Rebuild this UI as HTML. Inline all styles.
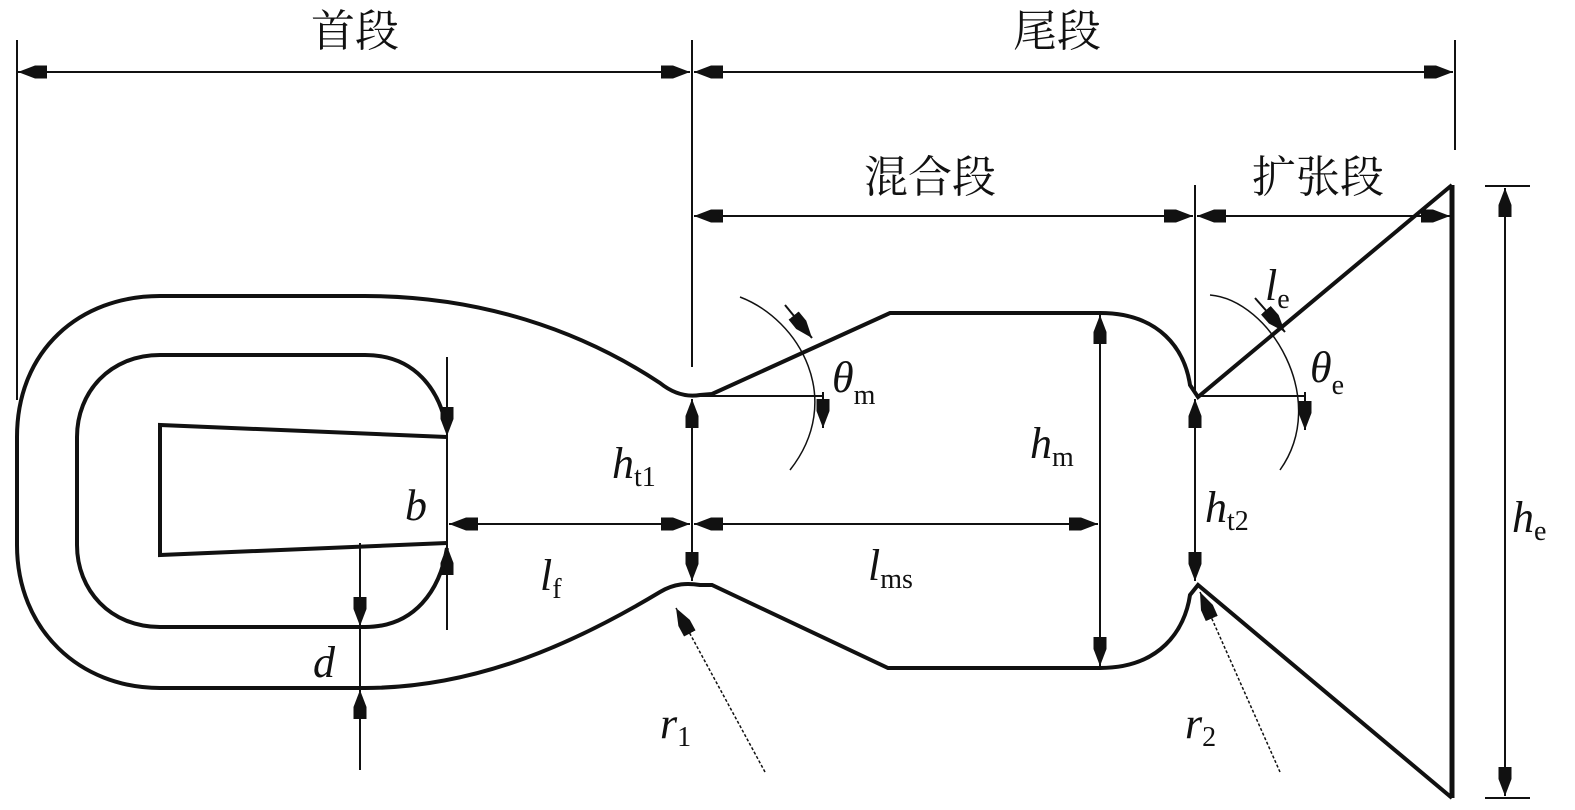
<!DOCTYPE html>
<html><head><meta charset="utf-8"><style>
html,body{margin:0;padding:0;background:#fff;}
svg{display:block;}
text{font-family:"Liberation Serif","Times New Roman","Noto Serif CJK SC",serif;fill:#111;}
.cn{font-family:"Noto Serif CJK SC","Liberation Serif",serif;font-size:44px;}
.it{font-style:italic;font-size:44px;}
.sub{font-style:normal;font-size:28px;}
</style></head><body>
<svg width="1575" height="810" viewBox="0 0 1575 810" xmlns="http://www.w3.org/2000/svg">
<defs>
<marker id="a" markerWidth="30" markerHeight="16" refX="29" refY="8" orient="auto-start-reverse" markerUnits="userSpaceOnUse">
<path d="M0,1.5 L12,1.5 L29,8 L12,14.5 L0,14.5 Z" fill="#111"/>
</marker>
</defs>
<g stroke="#111" fill="none">
<g stroke-width="2">
<line x1="17" y1="40" x2="17" y2="400"/>
<line x1="692" y1="40" x2="692" y2="367"/>
<line x1="1455" y1="40" x2="1455" y2="150"/>
<line x1="1195" y1="185" x2="1195" y2="390"/>
<line x1="1485" y1="186" x2="1530" y2="186"/>
<line x1="1485" y1="798" x2="1530" y2="798"/>
</g>
<g stroke-width="2" marker-start="url(#a)" marker-end="url(#a)">
<line x1="18" y1="72" x2="690" y2="72"/>
<line x1="694" y1="72" x2="1453" y2="72"/>
<line x1="694" y1="216" x2="1193" y2="216"/>
<line x1="1197" y1="216" x2="1450" y2="216"/>
<line x1="1505" y1="188" x2="1505" y2="796"/>
<line x1="692" y1="399" x2="692" y2="581"/>
<line x1="1195" y1="399" x2="1195" y2="581"/>
<line x1="1100" y1="315" x2="1100" y2="666"/>
<line x1="449" y1="524" x2="690" y2="524"/>
<line x1="694" y1="524" x2="1098" y2="524"/>
</g>
<g stroke-width="2">
<line x1="447" y1="357" x2="447" y2="630"/>
<line x1="360" y1="543" x2="360" y2="770"/>
</g>
<line x1="447" y1="400" x2="447" y2="436" stroke-width="2" marker-end="url(#a)"/>
<line x1="447" y1="585" x2="447" y2="546" stroke-width="2" marker-end="url(#a)"/>
<line x1="360" y1="590" x2="360" y2="626" stroke-width="2" marker-end="url(#a)"/>
<line x1="360" y1="725" x2="360" y2="690" stroke-width="2" marker-end="url(#a)"/>
<g stroke-width="4">
<path d="M17,437 L17,545 C17,630 80,688 160,688 L365,688 C480,688 580,640 660,592 C675,583 688,583 700,585 L712,585 L888,668 L1100,668 C1160,668 1185,630 1190,595 L1198,585 L1452,798"/>
<path d="M17,437 C17,350 80,296 160,296 L365,296 C480,296 580,330 660,383 C675,395 688,397 700,395 L712,394 L890,313 L1100,313 C1160,313 1185,350 1190,385 L1198,397 L1452,185"/>
<line x1="1452" y1="185" x2="1452" y2="798" stroke-width="5"/>
<path d="M77,437 L77,545 C77,590 110,627 160,627 L365,627 C415,627 440,590 447,548"/>
<path d="M77,437 C77,392 110,355 160,355 L365,355 C415,355 440,390 447,430"/>
<path d="M447,437 L160,425 L160,555 L447,543"/>
</g>
<g stroke-width="2">
<line x1="700" y1="396" x2="823" y2="396"/>
<line x1="1198" y1="396" x2="1305" y2="396"/>
<path d="M740,297 C800,320 845,400 790,470" stroke-width="1.5"/>
<path d="M1210,295 C1270,300 1330,400 1280,470" stroke-width="1.5"/>
</g>
<line x1="785" y1="305" x2="812" y2="338" stroke-width="2" marker-end="url(#a)"/>
<line x1="823" y1="392" x2="823" y2="428" stroke-width="2" marker-end="url(#a)"/>
<line x1="1255" y1="298" x2="1285" y2="332" stroke-width="2" marker-end="url(#a)"/>
<line x1="1305" y1="392" x2="1305" y2="430" stroke-width="2" marker-end="url(#a)"/>
<line x1="765" y1="772" x2="676" y2="608" stroke-width="1.5" stroke-dasharray="3,2" marker-end="url(#a)"/>
<line x1="1280" y1="772" x2="1200" y2="592" stroke-width="1.5" stroke-dasharray="3,2" marker-end="url(#a)"/>
</g>
<text class="cn" x="355" y="46" text-anchor="middle">首段</text>
<text class="cn" x="1057" y="46" text-anchor="middle">尾段</text>
<text class="cn" x="930" y="192" text-anchor="middle">混合段</text>
<text class="cn" x="1318" y="192" text-anchor="middle">扩张段</text>
<text class="it" x="405" y="520">b</text>
<text class="it" x="313" y="677">d</text>
<text class="it" x="540" y="590">l<tspan class="sub" dy="8">f</tspan></text>
<text class="it" x="612" y="478">h<tspan class="sub" dy="8">t1</tspan></text>
<text class="it" x="868" y="580">l<tspan class="sub" dy="8">ms</tspan></text>
<text class="it" x="1030" y="458">h<tspan class="sub" dy="8">m</tspan></text>
<text class="it" x="1205" y="522">h<tspan class="sub" dy="8">t2</tspan></text>
<text class="it" x="1512" y="532">h<tspan class="sub" dy="8">e</tspan></text>
<text class="it" x="832" y="392">θ<tspan class="sub" dy="12">m</tspan></text>
<text class="it" x="1310" y="382">θ<tspan class="sub" dy="12">e</tspan></text>
<text class="it" x="1265" y="300">l<tspan class="sub" dy="8">e</tspan></text>
<text class="it" x="660" y="738">r<tspan class="sub" dy="8">1</tspan></text>
<text class="it" x="1185" y="738">r<tspan class="sub" dy="8">2</tspan></text>
</svg>
</body></html>
